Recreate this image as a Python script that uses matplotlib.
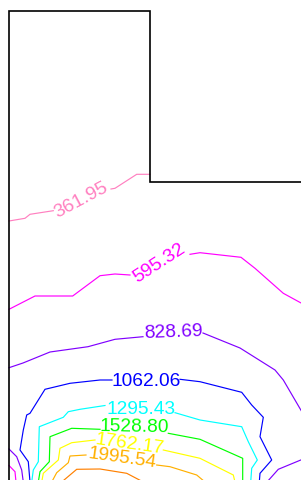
import matplotlib
matplotlib.use("Agg")
import matplotlib.pyplot as plt

# contour levels and colours
levels = [361.95, 595.32, 828.69, 1062.06, 1295.43, 1528.80, 1762.17, 1995.54, 2228.91]
level_colors = ["#ff80c0", "#ff00ff", "#8000ff", "#0000ff", "#00ffff",
                "#00ff00", "#ffff00", "#ffb000", "#ff8000"]

# contour polylines (x, y in image units)
c361 = [
    [(9, 221), (25, 218.3), (30, 214.3), (53.3, 210.7)],
    [(111, 189), (115, 188.3), (136.7, 174.3), (150, 174.3)],
]
c595 = [
    [(9, 309.3), (35, 296), (72.7, 296), (100, 275.7), (115, 274), (130, 275)],
    [(190, 254.3), (200, 252.7), (241, 257.3), (255, 268.3), (283.3, 293.3), (302, 303.5)],
    [(9, 465.5), (15, 471.7), (16, 482)],
]
c828 = [
    [(9, 367.7), (23, 363), (50, 352), (88, 346.7), (115, 339.3), (143, 336.7)],
    [(203, 333), (240, 348), (275, 370), (283.3, 380), (302, 412)],
    [(9, 449), (16.7, 456.7), (21.7, 470), (23.3, 482)],
    [(267, 482), (278.3, 469.3), (302, 459.5)],
]
c1062 = [
    [(30, 482), (28.3, 461.7), (20, 450), (23.3, 430), (26.7, 415), (30, 413.3),
     (45, 389.3), (70, 383.3), (100, 380), (112, 380)],
    [(180, 379.3), (200, 381.7), (241.7, 392.3), (251.7, 405), (263.3, 417.3),
     (260, 436.7), (271.7, 460), (260, 473.3), (259.3, 482)],
]
c1295 = [
    [(31.7, 482), (33.3, 470), (38.3, 461.7), (39.3, 426.7), (63.3, 417.3),
     (68.3, 411.7), (80, 409.3), (105, 405.5)],
    [(175, 412.7), (200, 420), (241.7, 426.7), (248.3, 441.7), (257.3, 460),
     (251.7, 468.3), (250.7, 482)],
]
c1528 = [
    [(38.3, 482), (40, 471.7), (49.3, 461.7), (50, 436.7), (71.7, 428.3), (100, 429.3)],
    [(168.3, 433.3), (200, 439.3), (242.7, 458.3), (242.7, 482)],
]
c1762 = [
    [(41.7, 482), (43.3, 473.3), (58.3, 460), (60, 448.3), (71.7, 442.7), (95, 440)],
    [(163.3, 450), (200, 458.3), (233.3, 475), (235, 482)],
]
c1995 = [
    [(51.7, 482), (56.7, 472.7), (68.3, 462.7), (70, 456), (86, 455)],
    [(156.7, 465), (170, 466.7), (196.7, 475), (205, 482)],
]
c2228 = [
    [(61.7, 482), (76.7, 469.3), (100, 469), (126.7, 473.3), (143.3, 482)],
]
contours = [c361, c595, c828, c1062, c1295, c1528, c1762, c1995, c2228]

# label anchor (x, y, rotation) per labelled level
label_pos = [(80.7, 199.8, 28), (159.5, 263.5, 33), (173, 332.5, 2), (146, 381, 0),
             (141, 410, 0), (134.5, 427.5, -1), (130, 444.5, -8), (122, 458, -8)]

# domain boundary (L-shaped)
boundary_x = [9, 9, 150, 150, 305]
boundary_y = [485, 10.7, 10.7, 182.3, 182.3]

fig = plt.figure(figsize=(3.01, 4.80), dpi=100)
ax = fig.add_axes([0, 0, 1, 1])
ax.set_xlim(0, 301)
ax.set_ylim(480, 0)
ax.axis("off")

for segs, col in zip(contours, level_colors):
    for seg in segs:
        xs = [p[0] for p in seg]
        ys = [p[1] for p in seg]
        ax.plot(xs, ys, color=col, lw=0.85, solid_joinstyle="miter")

for lev, col, (lx, ly, rot) in zip(levels, level_colors, label_pos):
    ax.text(lx, ly, "%.2f" % lev, color=col, fontsize=13.8, family="Liberation Sans",
            ha="center", va="center", rotation=rot, rotation_mode="anchor")

ax.plot(boundary_x, boundary_y, color="black", lw=1.2, solid_joinstyle="miter")

fig.savefig("out.png", dpi=100)
